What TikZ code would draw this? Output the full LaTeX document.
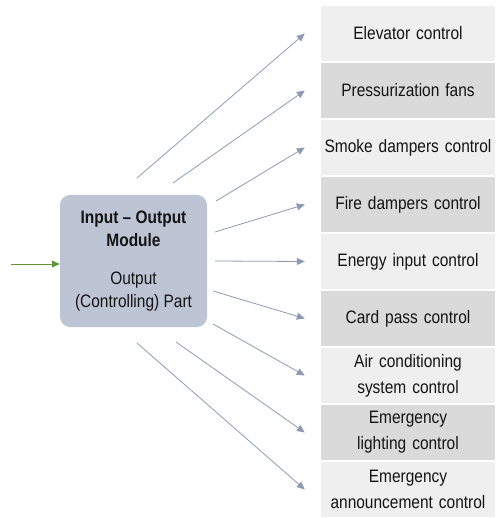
\documentclass[tikz,border=0pt]{standalone}
\usepackage{fontspec}
\setmainfont{Liberation Sans}[FakeStretch=0.86]
\usetikzlibrary{arrows.meta,calc}
\definecolor{iolight}{RGB}{239,239,239}
\definecolor{iodark}{RGB}{218,218,218}
\definecolor{iomodule}{RGB}{189,196,212}
\definecolor{ioarrow}{RGB}{141,154,180}
\definecolor{iogreen}{RGB}{96,150,58}
\definecolor{ioink}{RGB}{20,20,20}

\begin{document}
\begin{tikzpicture}[
    x=1pt, y=-1pt,
    font=\fontsize{18}{26}\selectfont,
    >={Triangle[length=8pt,width=7pt]},
    % Output rows: alternating light and darker grey bands.
    output/.style={
        minimum width=174pt,
        text width=174pt,
        minimum height=55pt,
        inner xsep=0pt,
        inner ysep=0pt,
        align=center,
        text=ioink
    },
    lightrow/.style={output, fill=iolight},
    darkrow/.style={output, fill=iodark},
    module/.style={
        fill=iomodule,
        rounded corners=10pt,
        minimum width=147pt,
        minimum height=132pt,
        align=center,
        text=ioink,
        font=\fontsize{18}{23}\selectfont
    },
    fan/.style={->, line width=0.8pt, draw=ioarrow},
    feed/.style={->, line width=0.8pt, draw=iogreen}
]
    \useasboundingbox (0,0) rectangle (495,518);

    \node[module] (mod) at (133.5,261)
        {\textbf{Input – Output}\\\textbf{Module}\\[15pt]Output\\(Controlling) Part};

    \foreach [count=\i] \txt/\sty in {
        {Elevator control}/lightrow,
        {Pressurization fans}/darkrow,
        {Smoke dampers control}/lightrow,
        {Fire dampers control}/darkrow,
        {Energy input control}/lightrow,
        {Card pass control}/darkrow,
        {Air conditioning\\system control}/lightrow,
        {Emergency\\lighting control}/darkrow,
        {Emergency\\announcement control}/lightrow} {
        \node[\sty] (out\i) at (408,{33.5+57*(\i-1)}) {\txt};
    }

    % Fan of control lines leaving the module.
    \foreach \i/\dx/\dy in {1/3.5/-83, 2/39.5/-78, 3/82.5/-60, 4/81.5/-29,
        5/81.5/0, 6/79.5/30, 7/79.5/63, 8/42.5/81, 9/3.5/82} {
        \coordinate (s\i) at ($(mod.center)+(\dx,\dy)$);
        \draw[fan] (s\i) -- ($(out\i.west)+(-16,0)$);
    }

    \coordinate (in) at ($(mod.west)+(-49,3)$);
    \draw[feed] (in) -- (in -| mod.west);
\end{tikzpicture}
\end{document}
